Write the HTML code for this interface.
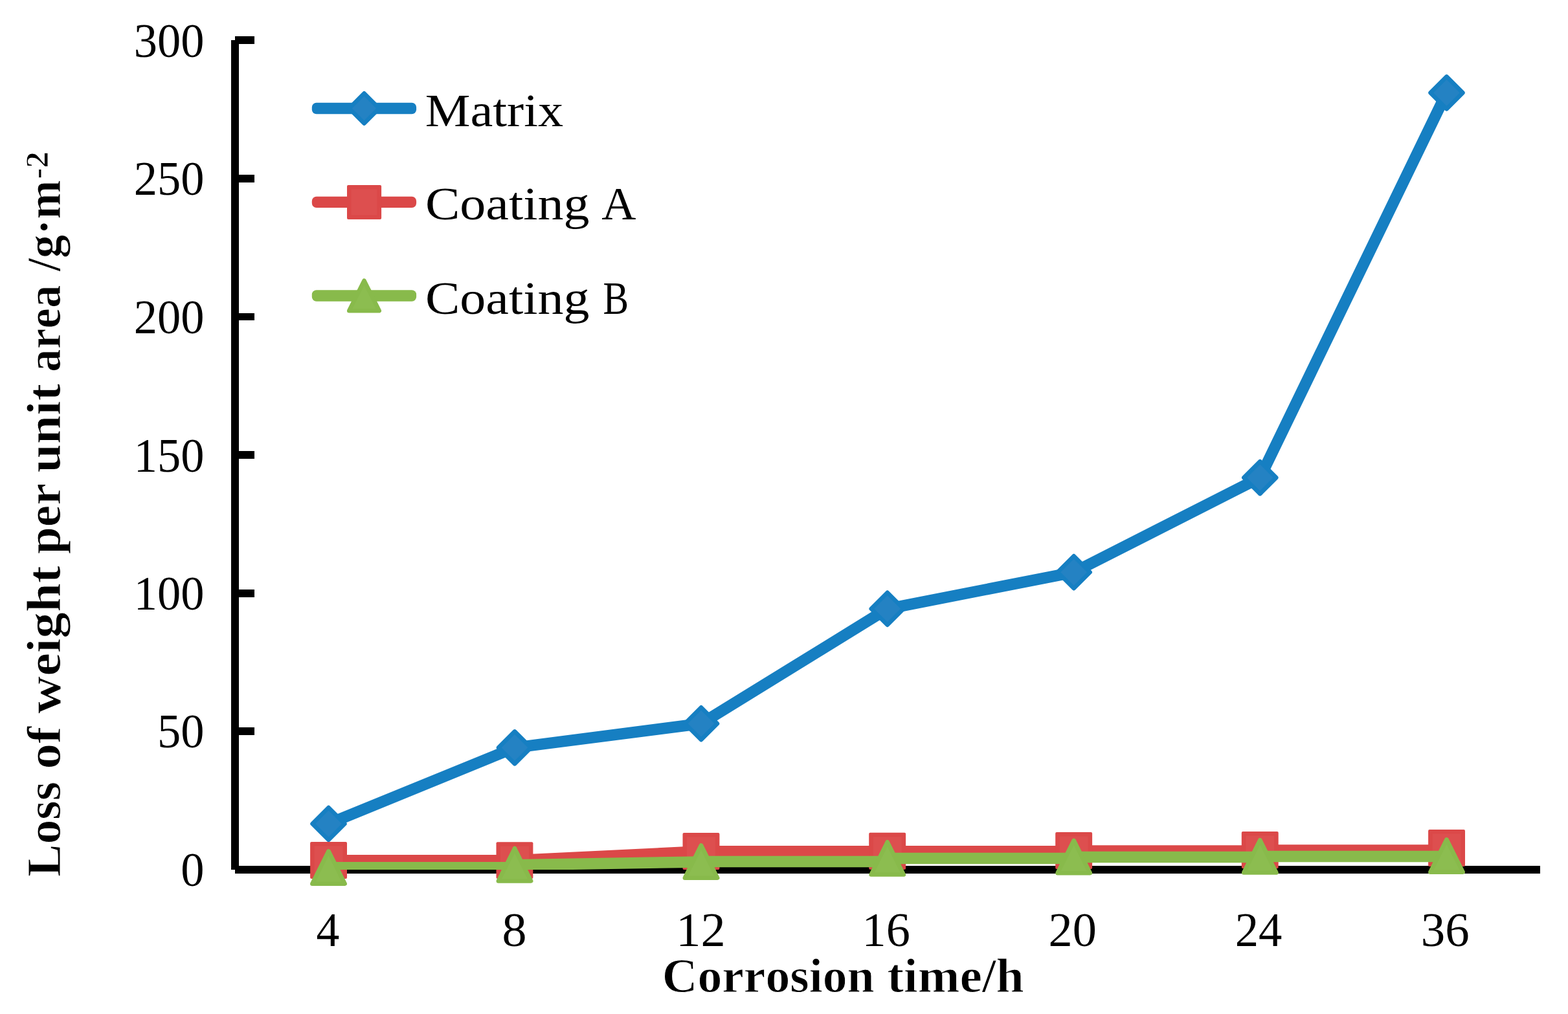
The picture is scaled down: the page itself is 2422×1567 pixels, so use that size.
<!DOCTYPE html>
<html lang="en">
<head>
<meta charset="utf-8">
<title>Loss of weight per unit area vs corrosion time</title>
<style>
html,body{margin:0;padding:0;background:#fff;}
body{width:2422px;height:1567px;overflow:hidden;}
svg{display:block;}
text{font-family:"Liberation Serif","DejaVu Serif",serif;fill:#000;font-kerning:none;font-variant-ligatures:none;white-space:pre;}
.b{font-weight:bold;}
</style>
</head>
<body>
<svg width="2422" height="1567" viewBox="0 0 2422 1567" role="img" aria-label="Line chart: loss of weight per unit area versus corrosion time for Matrix, Coating A and Coating B">
<rect width="2422" height="1567" fill="#fff"/>
<defs><clipPath id="plot"><rect x="363" y="0" width="2016" height="1344"/></clipPath></defs>

<g fill="#000" shape-rendering="crispEdges">
<rect x="357" y="62" width="12" height="1282"/>
<rect x="363" y="1338" width="2016" height="12"/>
<rect x="363" y="56" width="30" height="12"/>
<rect x="363" y="270" width="30" height="12"/>
<rect x="363" y="484" width="30" height="11"/>
<rect x="363" y="697" width="30" height="12"/>
<rect x="363" y="911" width="30" height="12"/>
<rect x="363" y="1124" width="30" height="12"/>
</g>
<g font-size="73.5">
<text x="206.76" y="87.7" textLength="108.60" lengthAdjust="spacingAndGlyphs">300</text>
<text x="206.76" y="300.7" textLength="108.60" lengthAdjust="spacingAndGlyphs">250</text>
<text x="206.76" y="514.7" textLength="108.60" lengthAdjust="spacingAndGlyphs">200</text>
<text x="206.76" y="728.7" textLength="108.60" lengthAdjust="spacingAndGlyphs">150</text>
<text x="206.76" y="941.7" textLength="108.60" lengthAdjust="spacingAndGlyphs">100</text>
<text x="242.96" y="1154.7" textLength="72.40" lengthAdjust="spacingAndGlyphs">50</text>
<text x="279.16" y="1368.7" textLength="36.20" lengthAdjust="spacingAndGlyphs">0</text>
</g>
<g font-size="73.5">
<text x="488.60" y="1461.6" textLength="35.82" lengthAdjust="spacingAndGlyphs">4</text>
<text x="775.51" y="1461.6" textLength="37.99" lengthAdjust="spacingAndGlyphs">8</text>
<text x="1044.28" y="1461.6" textLength="76.44" lengthAdjust="spacingAndGlyphs">12</text>
<text x="1331.47" y="1461.6" textLength="74.35" lengthAdjust="spacingAndGlyphs">16</text>
<text x="1619.64" y="1461.6" textLength="74.29" lengthAdjust="spacingAndGlyphs">20</text>
<text x="1907.81" y="1461.6" textLength="72.63" lengthAdjust="spacingAndGlyphs">24</text>
<text x="2194.72" y="1461.6" textLength="74.92" lengthAdjust="spacingAndGlyphs">36</text>
</g>
<text class="b" font-size="74.6" y="1532.5" stroke="#fff" stroke-width="1.0" stroke-linejoin="round" paint-order="fill stroke"><tspan x="1022.81" textLength="327.84" lengthAdjust="spacingAndGlyphs">Corrosion</tspan> <tspan x="1370.25" textLength="211.43" lengthAdjust="spacingAndGlyphs">time/h</tspan></text>
<text class="b" font-size="74.6" stroke="#fff" stroke-width="1.0" stroke-linejoin="round" paint-order="fill stroke" transform="translate(92.8,0) rotate(-90)"><tspan x="-1354.99" textLength="147.04" lengthAdjust="spacingAndGlyphs" y="0">Loss</tspan> <tspan x="-1188.51" textLength="65.73" lengthAdjust="spacingAndGlyphs" y="0">of</tspan> <tspan x="-1103.04" textLength="228.69" lengthAdjust="spacingAndGlyphs" y="0">weight</tspan> <tspan x="-856.16" textLength="109.08" lengthAdjust="spacingAndGlyphs" y="0">per</tspan> <tspan x="-730.61" textLength="137.66" lengthAdjust="spacingAndGlyphs" y="0">unit</tspan> <tspan x="-575.00" textLength="134.68" lengthAdjust="spacingAndGlyphs" y="0">area</tspan> <tspan x="-419.19" textLength="140.93" lengthAdjust="spacingAndGlyphs" y="0">/g·m</tspan><tspan x="-276.88" textLength="42.68" lengthAdjust="spacingAndGlyphs" y="-18.4" font-size="50.5">-2</tspan></text>
<g clip-path="url(#plot)">
<path d="M507.5,1273.0 L795.0,1155.4 L1083.0,1118.3 L1370.7,940.8 L1658.7,884.3 L1946.3,738.1 L2234.5,143.4" fill="none" stroke="#167FC2" stroke-width="17.5" stroke-linecap="round" stroke-linejoin="round"/>
</g>
<path d="M507.5,1248.0 L532.5,1273.0 L507.5,1298.0 L482.5,1273.0 Z" fill="#2482C3" stroke="#167FC2" stroke-width="6.5" stroke-linejoin="round"/>
<path d="M795.0,1130.4 L820.0,1155.4 L795.0,1180.4 L770.0,1155.4 Z" fill="#2482C3" stroke="#167FC2" stroke-width="6.5" stroke-linejoin="round"/>
<path d="M1083.0,1093.3 L1108.0,1118.3 L1083.0,1143.3 L1058.0,1118.3 Z" fill="#2482C3" stroke="#167FC2" stroke-width="6.5" stroke-linejoin="round"/>
<path d="M1370.7,915.8 L1395.7,940.8 L1370.7,965.8 L1345.7,940.8 Z" fill="#2482C3" stroke="#167FC2" stroke-width="6.5" stroke-linejoin="round"/>
<path d="M1658.7,859.3 L1683.7,884.3 L1658.7,909.3 L1633.7,884.3 Z" fill="#2482C3" stroke="#167FC2" stroke-width="6.5" stroke-linejoin="round"/>
<path d="M1946.3,713.1 L1971.3,738.1 L1946.3,763.1 L1921.3,738.1 Z" fill="#2482C3" stroke="#167FC2" stroke-width="6.5" stroke-linejoin="round"/>
<path d="M2234.5,118.4 L2259.5,143.4 L2234.5,168.4 L2209.5,143.4 Z" fill="#2482C3" stroke="#167FC2" stroke-width="6.5" stroke-linejoin="round"/>
<g clip-path="url(#plot)">
<path d="M507.5,1329.8 L795.0,1329.8" fill="none" stroke="#DB4848" stroke-width="17.5" stroke-linecap="round" stroke-linejoin="round"/>
<path d="M795.0,1329.8 L1083.0,1315.8" fill="none" stroke="#DB4848" stroke-width="17.5" stroke-linecap="round" stroke-linejoin="round"/>
<path d="M1083.0,1315.8 L1370.7,1315.8" fill="none" stroke="#DB4848" stroke-width="17.5" stroke-linecap="round" stroke-linejoin="round"/>
<path d="M1370.7,1315.8 L1658.7,1315.8" fill="none" stroke="#DB4848" stroke-width="17.5" stroke-linecap="round" stroke-linejoin="round"/>
<path d="M1658.7,1315.0 L1946.3,1315.0" fill="none" stroke="#DB4848" stroke-width="17.5" stroke-linecap="round" stroke-linejoin="round"/>
<path d="M1946.3,1314.0 L2234.5,1314.0" fill="none" stroke="#DB4848" stroke-width="17.5" stroke-linecap="round" stroke-linejoin="round"/>
</g>
<rect x="479.1" y="1301.0" width="56.9" height="56.9" rx="2" ry="2" fill="#DB4848"/><rect x="485.6" y="1307.5" width="43.9" height="43.9" fill="#DD4F4F"/>
<rect x="766.5" y="1301.2" width="56.9" height="56.9" rx="2" ry="2" fill="#DB4848"/><rect x="773.0" y="1307.8" width="43.9" height="43.9" fill="#DD4F4F"/>
<rect x="1054.5" y="1287.0" width="56.9" height="56.9" rx="2" ry="2" fill="#DB4848"/><rect x="1061.0" y="1293.5" width="43.9" height="43.9" fill="#DD4F4F"/>
<rect x="1342.2" y="1286.8" width="56.9" height="56.9" rx="2" ry="2" fill="#DB4848"/><rect x="1348.8" y="1293.2" width="43.9" height="43.9" fill="#DD4F4F"/>
<rect x="1630.2" y="1286.0" width="56.9" height="56.9" rx="2" ry="2" fill="#DB4848"/><rect x="1636.8" y="1292.5" width="43.9" height="43.9" fill="#DD4F4F"/>
<rect x="1917.8" y="1285.0" width="56.9" height="56.9" rx="2" ry="2" fill="#DB4848"/><rect x="1924.3" y="1291.5" width="43.9" height="43.9" fill="#DD4F4F"/>
<rect x="2206.1" y="1282.0" width="56.9" height="56.9" rx="2" ry="2" fill="#DB4848"/><rect x="2212.6" y="1288.5" width="43.9" height="43.9" fill="#DD4F4F"/>
<g clip-path="url(#plot)">
<path d="M507.5,1340.8 L795.0,1340.8" fill="none" stroke="#88BA4B" stroke-width="17.5" stroke-linecap="round" stroke-linejoin="round"/>
<path d="M795.0,1336.7 L1083.0,1332.0" fill="none" stroke="#88BA4B" stroke-width="17.5" stroke-linecap="round" stroke-linejoin="round"/>
<path d="M1083.0,1331.6 L1370.7,1331.6" fill="none" stroke="#88BA4B" stroke-width="17.5" stroke-linecap="round" stroke-linejoin="round"/>
<path d="M1370.7,1326.5 L1658.7,1326.5" fill="none" stroke="#88BA4B" stroke-width="17.5" stroke-linecap="round" stroke-linejoin="round"/>
<path d="M1658.7,1324.4 L1946.3,1324.4" fill="none" stroke="#88BA4B" stroke-width="17.5" stroke-linecap="round" stroke-linejoin="round"/>
<path d="M1946.3,1323.4 L2234.5,1323.4" fill="none" stroke="#88BA4B" stroke-width="17.5" stroke-linecap="round" stroke-linejoin="round"/>
</g>
<path d="M507.5,1315.3 L532.7,1365.7 L482.3,1365.7 Z" fill="#8CBD50" stroke="#88BA4B" stroke-width="6.5" stroke-linejoin="round"/>
<path d="M795.0,1311.0 L820.2,1361.4 L769.8,1361.4 Z" fill="#8CBD50" stroke="#88BA4B" stroke-width="6.5" stroke-linejoin="round"/>
<path d="M1083.0,1306.3 L1108.2,1356.7 L1057.8,1356.7 Z" fill="#8CBD50" stroke="#88BA4B" stroke-width="6.5" stroke-linejoin="round"/>
<path d="M1370.7,1301.2 L1395.9,1351.6 L1345.5,1351.6 Z" fill="#8CBD50" stroke="#88BA4B" stroke-width="6.5" stroke-linejoin="round"/>
<path d="M1658.7,1298.8 L1683.9,1349.2 L1633.5,1349.2 Z" fill="#8CBD50" stroke="#88BA4B" stroke-width="6.5" stroke-linejoin="round"/>
<path d="M1946.3,1298.2 L1971.5,1348.6 L1921.1,1348.6 Z" fill="#8CBD50" stroke="#88BA4B" stroke-width="6.5" stroke-linejoin="round"/>
<path d="M2234.5,1297.3 L2259.7,1347.7 L2209.3,1347.7 Z" fill="#8CBD50" stroke="#88BA4B" stroke-width="6.5" stroke-linejoin="round"/>
<rect x="481.8" y="158.8" width="161.3" height="17.4" rx="7" ry="7" fill="#167FC2"/>
<rect x="481.8" y="303.7" width="161.3" height="17.4" rx="7" ry="7" fill="#DB4848"/>
<rect x="481.8" y="448.3" width="161.3" height="17.4" rx="7" ry="7" fill="#88BA4B"/>
<path d="M562.5,144.3 L585.7,167.5 L562.5,190.7 L539.3,167.5 Z" fill="#2482C3" stroke="#167FC2" stroke-width="6.5" stroke-linejoin="round"/>
<rect x="536.0" y="285.9" width="53.1" height="53.1" rx="2" ry="2" fill="#DB4848"/><rect x="542.5" y="292.4" width="40.1" height="40.1" fill="#DD4F4F"/>
<path d="M562.5,433.7 L585.8,480.3 L539.2,480.3 Z" fill="#8CBD50" stroke="#88BA4B" stroke-width="6.5" stroke-linejoin="round"/>
<g font-size="71.8">
<text y="194.6"><tspan x="656.74" textLength="213.42" lengthAdjust="spacingAndGlyphs">Matrix</tspan></text>
<text y="339"><tspan x="656.91" textLength="253.61" lengthAdjust="spacingAndGlyphs">Coating</tspan> <tspan x="929.28" textLength="53.16" lengthAdjust="spacingAndGlyphs">A</tspan></text>
<text y="484.5"><tspan x="656.91" textLength="253.61" lengthAdjust="spacingAndGlyphs">Coating</tspan> <tspan x="931.59" textLength="39.61" lengthAdjust="spacingAndGlyphs">B</tspan></text>
</g>
</svg>
</body>
</html>
